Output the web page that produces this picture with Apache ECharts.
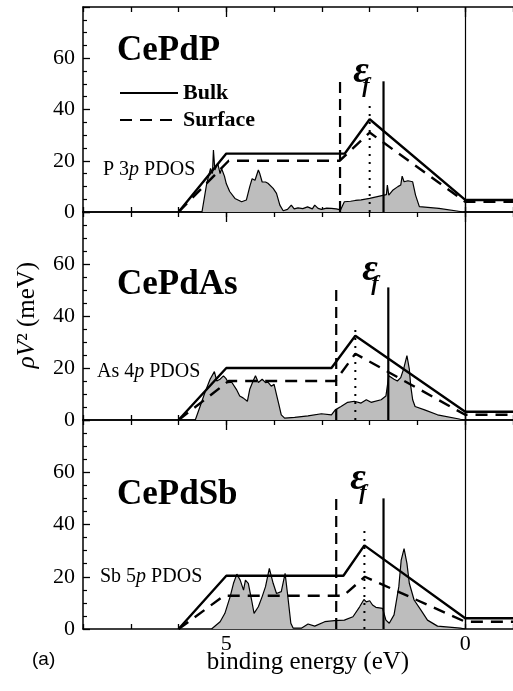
<!DOCTYPE html>
<html>
<head>
<meta charset="utf-8">
<script src="https://cdn.jsdelivr.net/npm/echarts@6/dist/echarts.min.js"></script>
<style>
html, body { margin: 0; padding: 0; background: #fff; }
#main { width: 513px; height: 691px; }
</style>
</head>
<body>
<div id="main"></div>
<script>
// panels, top to bottom
var compounds = ['CePdP', 'CePdAs', 'CePdSb'];
var pdosElement = ['P', 'As', 'Sb'];
var pdosShell = ['3', '4', '5'];

// x axis
var xTickLabels = [5, 0];

// p partial DOS [binding energy (eV), value]
var pdosP = [[5.51,0],[5.41,11.2],[5.33,17],[5.29,15],[5.27,24.2],[5.24,16.4],[5.18,19],[5.13,15],[5.1,17],[5.04,14],
  [5.0,11],[4.93,8],[4.82,5.3],[4.68,4],[4.58,4.7],[4.51,9.9],[4.46,13],[4.4,12.4],[4.33,16.4],[4.3,15],[4.25,11.7],
  [4.18,11.7],[4.13,11.2],[4.02,9.2],[3.95,7.3],[3.88,2.7],[3.81,0.5],[3.72,1],[3.64,2.7],[3.58,1.2],[3.5,1.6],[3.4,1.3],
  [3.3,2],[3.2,1.2],[3.15,2.7],[3.08,1.4],[3.01,1],[2.9,1.5],[2.8,1.4],[2.7,1.2],[2.61,0.8],[2.53,4],[2.4,4.2],[2.3,4.5],
  [2.18,4.7],[2.0,5.3],[1.84,6],[1.7,6.6],[1.65,6.8],[1.63,10.5],[1.6,6.6],[1.51,8.6],[1.41,9.9],[1.35,10.5],[1.32,14],
  [1.28,11.8],[1.2,12.2],[1.1,11.8],[1.04,6.6],[0.96,2.1],[0.55,1.4],[0.07,0.1],[0,0]];
var pdosAs = [[5.65,0],[5.55,5.2],[5.45,10.5],[5.34,15.7],[5.25,18.6],[5.2,15],[5.13,15.7],[5.06,17],[5.01,16],[4.96,14.4],
  [4.89,14.6],[4.79,11.8],[4.72,9.2],[4.65,8.5],[4.56,7.2],[4.51,11.8],[4.44,15],[4.39,17],[4.33,14.4],[4.25,15.7],
  [4.18,14.4],[4.13,14.6],[4.06,13],[4.0,13.7],[3.95,9.8],[3.9,5.9],[3.85,2],[3.78,0.7],[3.57,1],[3.29,1.6],[3.01,2.4],
  [2.8,2],[2.72,3.9],[2.6,5.2],[2.46,6.8],[2.32,7.2],[2.18,6.5],[2.07,7.8],[1.97,6.8],[1.76,7.8],[1.66,9.2],[1.6,17],
  [1.56,16.3],[1.49,15.7],[1.42,15],[1.35,16.3],[1.29,19.6],[1.22,24.8],[1.17,19.6],[1.14,13],[1.1,7.8],[1.05,5.2],
  [0.85,3.9],[0.58,2],[0.1,0.3],[0,0]];
var pdosSb = [[5.31,0],[5.13,2.8],[5.03,6],[4.92,12.4],[4.85,17.5],[4.78,21],[4.71,18.7],[4.64,14.9],[4.6,18.7],[4.54,17.5],
  [4.47,11],[4.42,6],[4.33,8.5],[4.25,12.4],[4.18,16.2],[4.1,23.2],[4.02,17.5],[3.95,13.6],[3.85,14.3],[3.77,21.3],
  [3.72,13.6],[3.65,2.2],[3.6,0.3],[3.43,0.3],[3.29,1.9],[3.15,1.1],[2.94,2.8],[2.74,3.2],[2.53,3.4],[2.35,4.7],[2.21,8.5],
  [2.12,11.3],[2.07,10.4],[2.0,10.8],[1.94,9.2],[1.87,8.3],[1.73,7.9],[1.66,3.4],[1.59,2.2],[1.49,5.4],[1.39,16.2],
  [1.34,26.4],[1.28,30.8],[1.22,25.1],[1.17,17.5],[1.07,11.1],[0.93,7.3],[0.79,3.4],[0.58,1.1],[0.1,0.3],[0,0]];

// model hybridization, bulk and surface
var bulkP  = [[6,0],[5,22.8],[2.52,22.8],[2.0,36.2],[0,4.7],[-1,4.7]];
var bulkAs = [[6,0],[5,20],[2.8,20],[2.3,32.4],[0,3.2],[-1,3.2]];
var bulkSb = [[6,0],[5,20.4],[2.55,20.4],[2.11,32],[0,4.1],[-1,4.1]];
var surfP  = [[6,0],[4.95,20],[2.63,20],[2.0,31],[0,4],[-1,4]];
var surfAs = [[6,0],[4.95,15],[2.72,15],[2.3,25.5],[0,2],[-1,2]];
var surfSb = [[6,0],[5.05,12.7],[2.55,12.7],[2.1,20],[0,2.8],[-1,2.8]];

// f levels: surface, bulk, and eps_f
var surfLevel = [2.62, 2.70, 2.70];
var bulkLevel = [1.71, 1.61, 1.71];
var levelTop = [51, 51, 50];
var epsLevel = [2.0, 2.3, 2.11];
var epsTop = [43, 35, 38];

var pdos = [pdosP, pdosAs, pdosSb];
var bulk = [bulkP, bulkAs, bulkSb];
var surf = [surfP, surfAs, surfSb];

var serif = 'Liberation Serif';
var gridTops = [7, 212, 420];
var gridHeights = [205, 208, 209];
var titleY = [51, 285, 495];
var epsX = [361, 370, 358];
var epsY = [72, 270, 479];
var pdosLabelX = [103, 97, 100];
var pdosLabelY = [170, 372, 577];

var myChart = echarts.init(document.getElementById('main'));

var grids = [], xAxes = [], yAxes = [], series = [], graphics = [];

function vline(e, top) {
    return [[e, 0], [e, top]];
}

for (var g = 0; g < 3; g++) {
    grids.push({ left: 83, width: 433, top: gridTops[g], height: gridHeights[g] });

    var base = {
        type: 'value', gridIndex: g, min: -1, max: 8, interval: 1, inverse: true,
        splitLine: { show: false }, axisLabel: { show: false }
    };
    // bottom, short ticks + labels
    xAxes.push(Object.assign({}, base, {
        position: 'bottom',
        axisLine: { onZero: false, lineStyle: { color: '#000', width: 1.5 } },
        axisTick: { inside: true, length: 5, lineStyle: { color: '#000', width: 1.3 } },
        axisLabel: g === 2 ? {
            show: true, customValues: xTickLabels, margin: 4,
            fontFamily: serif, fontSize: 22, color: '#000'
        } : { show: false }
    }));
    // bottom, long ticks at 5 and 0
    xAxes.push(Object.assign({}, base, {
        position: 'bottom',
        axisLine: { show: false, onZero: false },
        axisTick: { inside: true, length: 10, customValues: xTickLabels, lineStyle: { color: '#000', width: 1.3 } }
    }));
    // top
    xAxes.push(Object.assign({}, base, {
        position: 'top',
        axisLine: { onZero: false, lineStyle: { color: '#000', width: 1.5 } },
        axisTick: { inside: true, length: 5, lineStyle: { color: '#000', width: 1.3 } }
    }));
    xAxes.push(Object.assign({}, base, {
        position: 'top',
        axisLine: { show: false, onZero: false },
        axisTick: { inside: true, length: 10, customValues: xTickLabels, lineStyle: { color: '#000', width: 1.3 } }
    }));

    yAxes.push({
        type: 'value', gridIndex: g, min: 0, max: 80, interval: 20,
        axisLine: { onZero: false, lineStyle: { color: '#000', width: 1.5 } },
        axisTick: { inside: true, length: 7, lineStyle: { color: '#000', width: 1.3 } },
        minorTick: { show: true, splitNumber: 4, length: 4, lineStyle: { color: '#000', width: 1.2 } },
        splitLine: { show: false },
        axisLabel: {
            fontFamily: serif, fontSize: 22, color: '#000', margin: 8,
            formatter: function (v) { return v === 80 ? '' : v; }
        }
    });

    var xi = g * 4;
    series.push({
        type: 'line', xAxisIndex: xi, yAxisIndex: g, data: pdos[g], symbol: 'none', z: 1,
        lineStyle: { color: '#000', width: 1.2 },
        areaStyle: { color: '#bdbdbd', opacity: 1 }
    });
    series.push({
        name: 'Bulk', type: 'line', xAxisIndex: xi, yAxisIndex: g, data: bulk[g], symbol: 'none', z: 3,
        lineStyle: { color: '#000', width: 2.4 }, itemStyle: { color: '#000' },
        markLine: {
            silent: true, symbol: 'none', label: { show: false },
            lineStyle: { color: '#000', width: 1.2, type: 'solid' },
            data: [{ xAxis: 0 }]
        }
    });
    series.push({
        name: 'Surface', type: 'line', xAxisIndex: xi, yAxisIndex: g, data: surf[g], symbol: 'none', z: 3,
        lineStyle: { color: '#000', width: 2.4, type: [12, 8] }, itemStyle: { color: '#000' }
    });
    series.push({
        type: 'line', xAxisIndex: xi, yAxisIndex: g, data: vline(surfLevel[g], levelTop[g]), symbol: 'none', z: 3,
        lineStyle: { color: '#000', width: 2.2, type: [11, 6] }
    });
    series.push({
        type: 'line', xAxisIndex: xi, yAxisIndex: g, data: vline(bulkLevel[g], levelTop[g]), symbol: 'none', z: 3,
        lineStyle: { color: '#000', width: 2.2 }
    });
    series.push({
        type: 'line', xAxisIndex: xi, yAxisIndex: g, data: vline(epsLevel[g], epsTop[g]), symbol: 'none', z: 3,
        lineStyle: { color: '#000', width: 2, type: [2, 6] }
    });

    graphics.push({
        type: 'text', x: 117, y: titleY[g],
        style: { text: compounds[g], font: 'bold 35px "Liberation Serif"', fill: '#000', textVerticalAlign: 'middle' }
    });
    graphics.push({
        type: 'text', x: epsX[g], y: epsY[g],
        style: { text: 'ε', font: 'italic bold 38px "Liberation Serif"', fill: '#000', textAlign: 'center', textVerticalAlign: 'middle' }
    });
    graphics.push({
        type: 'text', x: epsX[g] + 5, y: epsY[g] + 14,
        style: { text: 'f', font: 'italic bold 22px "Liberation Serif"', fill: '#000', textAlign: 'center', textVerticalAlign: 'middle' }
    });
    graphics.push({
        type: 'text', x: pdosLabelX[g], y: pdosLabelY[g],
        style: {
            text: '{n|' + pdosElement[g] + ' ' + pdosShell[g] + '}{i|p}{n| PDOS}',
            textVerticalAlign: 'middle',
            rich: {
                n: { fontFamily: serif, fontSize: 20, color: '#000' },
                i: { fontFamily: serif, fontSize: 20, fontStyle: 'italic', color: '#000' }
            }
        }
    });
}

graphics.push({
    type: 'text', x: 27, y: 315, rotation: Math.PI / 2,
    style: {
        text: '{i|ρV}{n|² (meV)}', textAlign: 'center', textVerticalAlign: 'middle',
        rich: {
            i: { fontFamily: serif, fontSize: 25, fontStyle: 'italic', color: '#000' },
            n: { fontFamily: serif, fontSize: 25, color: '#000' }
        }
    }
});
graphics.push({
    type: 'text', x: 308, y: 662,
    style: { text: 'binding energy (eV)', font: '25px "Liberation Serif"', fill: '#000', textAlign: 'center', textVerticalAlign: 'middle' }
});
graphics.push({
    type: 'text', x: 32, y: 660,
    style: { text: '(a)', font: '19px "Liberation Sans"', fill: '#000', textVerticalAlign: 'middle' }
});

var option = {
    animation: false,
    backgroundColor: '#fff',
    grid: grids,
    xAxis: xAxes,
    yAxis: yAxes,
    legend: {
        data: ['Bulk', 'Surface'],
        orient: 'vertical', left: 114, top: 77,
        itemWidth: 58, itemHeight: 16, itemGap: 5,
        selectedMode: false,
        itemStyle: { opacity: 0 },
        textStyle: { fontFamily: serif, fontSize: 22, fontWeight: 'bold', color: '#000' }
    },
    series: series,
    graphic: graphics
};
myChart.setOption(option);
</script>
</body>
</html>
